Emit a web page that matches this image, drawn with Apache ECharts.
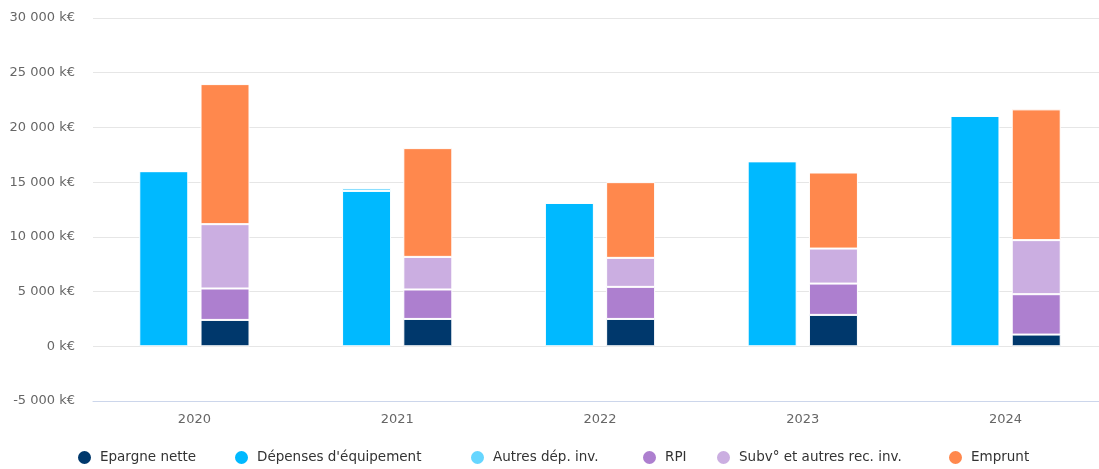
<!DOCTYPE html>
<html>
<head>
<meta charset="utf-8">
<script src="https://cdn.jsdelivr.net/npm/echarts@6/dist/echarts.min.js"></script>
<style>
html,body{margin:0;padding:0;background:#fff;overflow:hidden;width:1099px;height:469px;}
#c{width:1107px;height:469px;}
</style>
</head>
<body>
<div id="c"></div>
<script>
const years = ['2020', '2021', '2022', '2023', '2024'];
const depensesEquipement = [16000, 14200, 13100, 16900, 21050];
const autresDepInv = [0, 250, 0, 0, 0];
const epargneNette = [2410, 2500, 2500, 2870, 1070];
const rpi = [2870, 2690, 2930, 2860, 3690];
const subvAutres = [5880, 2980, 2650, 3200, 4940];
const emprunt = [12800, 9940, 6920, 6950, 11950];
const legendOrder = ['Epargne nette', "Dépenses d'équipement", 'Autres dép. inv.', 'RPI', 'Subv° et autres rec. inv.', 'Emprunt'];

const FONT = '"DejaVu Sans", Verdana, sans-serif';
function fmt(v) {
  const s = Math.abs(v).toString().replace(/\B(?=(\d{3})+(?!\d))/g, ' ');
  return (v < 0 ? '-' : '') + s + ' k€';
}
function mk(name, data, stack, color) {
  return {
    type: 'bar', barWidth: 49, barGap: '25%',
    name: name, data: data, stack: stack,
    itemStyle: { color: color, borderColor: '#ffffff', borderWidth: 1 }
  };
}
const legendLefts = [76, 233, 469, 641, 715, 947];
const legends = legendOrder.map(function (n, i) {
  return {
    data: [n],
    left: legendLefts[i],
    top: 449,
    icon: 'circle',
    itemWidth: 15,
    itemHeight: 15,
    padding: 0,
    textStyle: { color: '#333333', fontSize: 13.5, fontFamily: FONT, padding: [0, 0, 0, 3] }
  };
});
const chart = echarts.init(document.getElementById('c'), null, { renderer: 'canvas' });
chart.setOption({
  animation: false,
  backgroundColor: '#ffffff',
  grid: { left: 93, top: 18, right: 0, bottom: 68 },
  legend: legends,
  xAxis: {
    type: 'category',
    data: years,
    axisLine: { onZero: false, lineStyle: { color: '#ccd6eb', width: 1 } },
    axisTick: { show: false },
    axisLabel: { color: '#666666', fontSize: 13, fontFamily: FONT, margin: 12 }
  },
  yAxis: {
    type: 'value',
    min: -5000,
    max: 30000,
    interval: 5000,
    axisLine: { show: false },
    axisTick: { show: false },
    splitLine: { lineStyle: { color: '#e6e6e6', width: 1 } },
    axisLabel: { color: '#666666', fontSize: 13, fontFamily: FONT, margin: 18, formatter: fmt }
  },
  series: [
    mk("Dépenses d'équipement", depensesEquipement, 'dep', '#00b9ff'),
    mk('Autres dép. inv.', autresDepInv, 'dep', '#66d6ff'),
    mk('Epargne nette', epargneNette, 'rec', '#00386c'),
    mk('RPI', rpi, 'rec', '#ad7fcf'),
    mk('Subv° et autres rec. inv.', subvAutres, 'rec', '#cbaee1'),
    mk('Emprunt', emprunt, 'rec', '#ff884d')
  ]
});
</script>
</body>
</html>
